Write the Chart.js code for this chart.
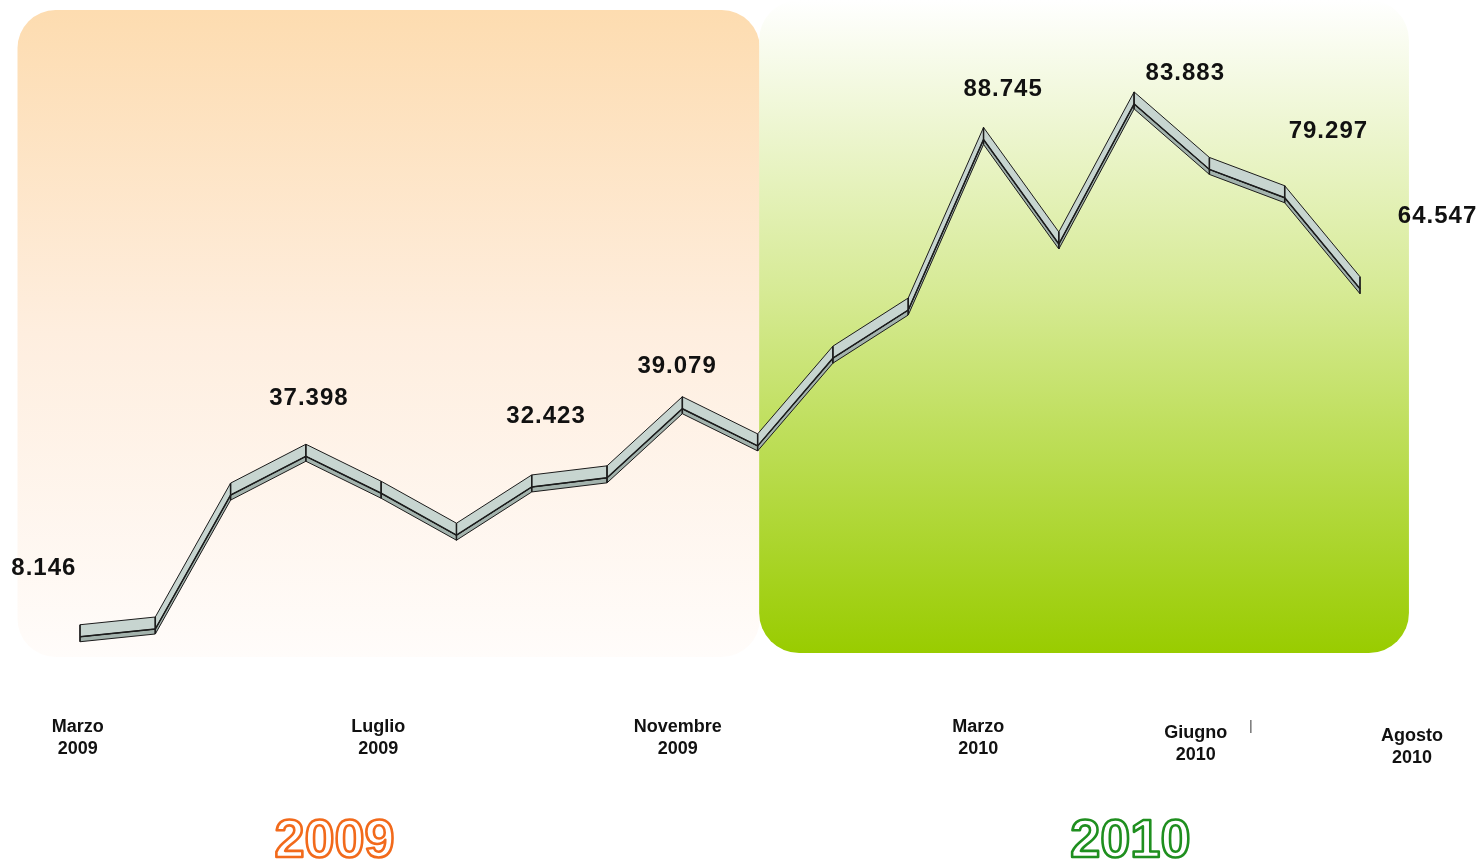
<!DOCTYPE html>
<html>
<head>
<meta charset="utf-8">
<script src="https://cdn.jsdelivr.net/npm/chart.js@4/dist/chart.umd.min.js"></script>
<style>
html,body{margin:0;padding:0;background:#fff;}
#wrap{width:1479px;height:859px;position:relative;}
</style>
</head>
<body>
<div id="wrap"><canvas id="c" width="1479" height="859"></canvas></div>
<script>
// ---- data ----
const months = ['Mar 2009','Apr 2009','Mag 2009','Giu 2009','Lug 2009','Ago 2009','Set 2009','Ott 2009','Nov 2009','Dic 2009',
                'Gen 2010','Feb 2010','Mar 2010','Apr 2010','Mag 2010','Giu 2010','Lug 2010','Ago 2010'];
const values = [8.146, 9.4, 31.1, 37.398, 31.4, 24.6, 32.423, 33.9, 45.1, 39.079,
                53.3, 61.1, 88.745, 71.8, 94.5, 83.883, 79.297, 64.547];
const valueLabels = ['8.146','37.398','32.423','39.079','88.745','83.883','79.297','64.547'];
const axisLabels = [['Marzo','2009'],['Luglio','2009'],['Novembre','2009'],['Marzo','2010'],['Giugno','2010'],['Agosto','2010']];
const yearLabels = ['2009','2010'];

// ---- placement (index units / value units) ----
const valueLabelPos = [[-0.48,19.3],[3.04,46.8],[6.19,43.8],[7.93,52.0],[12.26,96.9],[14.68,99.5],[16.58,90.0],[18.03,76.2]];
const axisLabelPos = [[-0.03,40],[3.96,40],[7.94,40],[11.93,40],[14.82,46],[17.69,49]];

function idxX(xs, i){ const a = xs.getPixelForValue(0), b = xs.getPixelForValue(1); return a + i*(b-a); }

const bgPlugin = {
  id:'bg',
  beforeDraw(chart){
    const ctx = chart.ctx, xs = chart.scales.x, ys = chart.scales.y;
    const y0 = ys.getPixelForValue(0);
    ctx.save();
    // orange 2009 panel
    let l = idxX(xs,-0.83), r = idxX(xs,9.03), t = 10, b = y0-30;
    let g = ctx.createLinearGradient(0,t,0,b);
    g.addColorStop(0,'#fddcb0'); g.addColorStop(0.5,'#feeedf'); g.addColorStop(1,'#fffcfa');
    ctx.fillStyle = g;
    ctx.beginPath(); ctx.roundRect(l,t,r-l,b-t,38); ctx.fill();
    // green 2010 panel
    l = idxX(xs,9.02); r = idxX(xs,17.65); t = 0; b = y0-34;
    g = ctx.createLinearGradient(0,t,0,b);
    g.addColorStop(0,'#ffffff'); g.addColorStop(0.45,'#d6ea94'); g.addColorStop(1,'#99cc00');
    ctx.fillStyle = g;
    ctx.beginPath(); ctx.roundRect(l,t,r-l,b-t,40); ctx.fill();
    ctx.restore();
  }
};

const ribbonPlugin = {
  id:'ribbon',
  beforeDatasetsDraw(chart){
    const ctx = chart.ctx;
    const pts = chart.getDatasetMeta(0).data;
    const up = 12, down = 5;
    ctx.save();
    ctx.lineJoin = 'round';
    ctx.strokeStyle = '#1c1c1c';
    ctx.lineWidth = 1;
    for (let i=0;i<pts.length-1;i++){
      const p = pts[i], q = pts[i+1];
      // lower side strip
      ctx.beginPath();
      ctx.moveTo(p.x,p.y); ctx.lineTo(q.x,q.y); ctx.lineTo(q.x,q.y+down); ctx.lineTo(p.x,p.y+down); ctx.closePath();
      ctx.fillStyle = '#a3b3ad'; ctx.fill(); ctx.stroke();
      // upper face
      ctx.beginPath();
      ctx.moveTo(p.x,p.y); ctx.lineTo(q.x,q.y); ctx.lineTo(q.x,q.y-up); ctx.lineTo(p.x,p.y-up); ctx.closePath();
      ctx.fillStyle = '#c7d5d0'; ctx.fill(); ctx.stroke();
    }
    // vertical edges at vertices
    ctx.lineWidth = 1.5;
    pts.forEach(p=>{ ctx.beginPath(); ctx.moveTo(p.x,p.y-up); ctx.lineTo(p.x,p.y+down); ctx.stroke(); });
    ctx.restore();
  }
};

const textPlugin = {
  id:'texts',
  afterDatasetsDraw(chart){
    const ctx = chart.ctx, xs = chart.scales.x, ys = chart.scales.y;
    const y0 = ys.getPixelForValue(0);
    ctx.save();
    ctx.textAlign = 'center'; ctx.textBaseline = 'middle';
    // value labels
    ctx.fillStyle = '#111';
    ctx.font = 'bold 24px "Liberation Sans", Arial, sans-serif';
    ctx.letterSpacing = '1px';
    valueLabels.forEach((s,i)=>{
      const [ix,v] = valueLabelPos[i];
      ctx.fillText(s, idxX(xs,ix), ys.getPixelForValue(v));
    });
    // axis labels
    ctx.letterSpacing = '0px';
    ctx.font = 'bold 18px "Liberation Sans", Arial, sans-serif';
    axisLabels.forEach((lines,i)=>{
      const [ix,dy] = axisLabelPos[i];
      const x = idxX(xs,ix);
      ctx.fillText(lines[0], x, y0+dy);
      ctx.fillText(lines[1], x, y0+dy+22);
    });
    // small tick
    ctx.strokeStyle = '#777'; ctx.lineWidth = 1.5;
    const tx = idxX(xs,15.55);
    ctx.beginPath(); ctx.moveTo(tx,y0+33); ctx.lineTo(tx,y0+46); ctx.stroke();
    // year labels
    ctx.font = 'bold 54px "Liberation Sans", Arial, sans-serif';
    ctx.textBaseline = 'alphabetic';
    ctx.lineWidth = 2.6; ctx.lineJoin = 'round';
    const yy = y0 + 170;
    [[3.38,'#f26a1b'],[13.95,'#1f8f1f']].forEach(([ix,col],i)=>{
      const x = idxX(xs,ix);
      ctx.fillStyle = '#ffffff'; ctx.fillText(yearLabels[i], x, yy);
      ctx.strokeStyle = col; ctx.strokeText(yearLabels[i], x, yy);
    });
    ctx.restore();
  }
};

new Chart(document.getElementById('c'), {
  type:'line',
  data:{
    labels: months,
    datasets:[{
      data: values,
      borderColor:'#1c1c1c',
      borderWidth:1.5,
      pointRadius:0,
      tension:0,
      fill:false
    }]
  },
  options:{
    responsive:false,
    animation:false,
    layout:{ padding:{ left:80, right:119, top:70, bottom:172 } },
    plugins:{ legend:{display:false}, tooltip:{enabled:false} },
    scales:{
      x:{ display:false, offset:false },
      y:{ display:false, min:0, max:100 }
    }
  },
  plugins:[bgPlugin, ribbonPlugin, textPlugin]
});
</script>
</body>
</html>
